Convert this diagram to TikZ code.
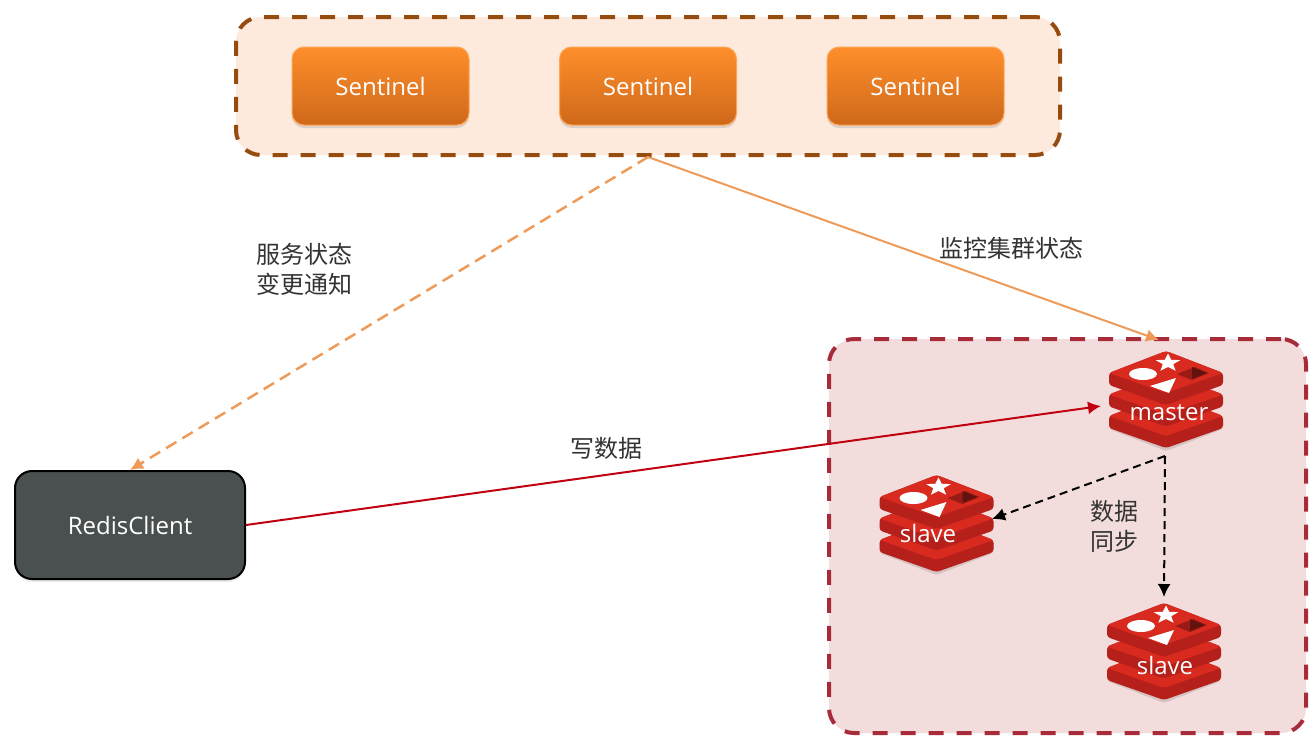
\documentclass[tikz,border=0pt]{standalone}
\usepackage{fontspec}
\setmainfont{Open Sans}
\newfontfamily\cjkfont{Noto Sans CJK SC}
\usetikzlibrary{arrows.meta,shadows}
\definecolor{sentinelline}{HTML}{964B0F}
\definecolor{sentinelback}{HTML}{FDEADD}
\definecolor{sentineltop}{HTML}{FF8F2B}
\definecolor{sentinelbot}{HTML}{CE681A}
\definecolor{redisline}{HTML}{A82B3A}
\definecolor{redisback}{HTML}{F3DDDC}
\definecolor{clientback}{HTML}{4A5050}
\definecolor{notifyline}{HTML}{EE9A58}
\definecolor{writeline}{HTML}{C00010}
\definecolor{logotop}{HTML}{D92A20}
\definecolor{logoside}{HTML}{B5201A}
\tikzset{
  groupbox/.style={line width=4pt,dash pattern=on 15pt off 13pt,rounded corners=25pt},
  sentinelbox/.style={draw=sentineltop!80!white,line width=1pt,rounded corners=12pt,
    top color=sentineltop,bottom color=sentinelbot,
    minimum width=177pt,minimum height=78pt,text=white,font=\fontsize{24}{29}\selectfont,
    drop shadow={shadow xshift=0pt,shadow yshift=-3pt,opacity=.25}},
  clientbox/.style={draw=black,line width=2pt,fill=clientback,rounded corners=17pt,
    minimum width=230pt,minimum height=108pt,text=white,font=\fontsize{24}{29}\selectfont,
    drop shadow={shadow xshift=0pt,shadow yshift=-3pt,opacity=.15}},
  msgtext/.style={text=black!80,font=\fontsize{24}{30}\selectfont\cjkfont,align=center,inner sep=0pt},
  redistext/.style={text=white,font=\fontsize{24}{29}\selectfont,inner sep=0pt},
  redisicon/.pic={
    \fill[black,opacity=.12,rounded corners=3pt] (-57,16) -- (0,38) -- (57,16) -- (57,29) -- (0,51) -- (-57,29) -- cycle;
    \foreach \o in {43,21.5,0} {
      \fill[logoside,rounded corners=3pt] (-57,-27+\o) -- (0,-49+\o) -- (57,-27+\o) -- (57,-15+\o) -- (0,5+\o) -- (-57,-15+\o) -- cycle;
      \fill[logotop,rounded corners=3pt] (-57,-27+\o) -- (0,-49+\o) -- (57,-27+\o) -- (0,-7+\o) -- cycle;
    }
    \fill[white] (-23,-26) ellipse (14pt and 6pt);
    \fill[white] (2,-46.5) -- (5.2,-40.2) -- (14.4,-39.9) -- (7.2,-35.8) -- (9.6,-29.3) -- (2,-33) -- (-5.6,-29.3) -- (-3.2,-35.8) -- (-10.4,-39.9) -- (-1.2,-40.2) -- cycle;
    \fill[white] (-16,-14) -- (10,-22) -- (3,-7) -- cycle;
    \fill[logoside!85!black] (11,-26) -- (29,-33) -- (43,-27) -- (26,-20) -- cycle;
    \fill[logoside!55!black] (26,-33) -- (41,-27) -- (26,-21) -- cycle;
  }
}
\begin{document}
\begin{tikzpicture}[x=1pt,y=-1pt]
  \useasboundingbox (0,0) rectangle (1311,740);

  \node at (648,86) [draw=sentinelline,fill=sentinelback,groupbox,minimum width=824pt,minimum height=138pt] (sentinels) {};
  \node at (1067.5,536) [draw=redisline,fill=redisback,groupbox,minimum width=477pt,minimum height=394pt] (cluster) {};

  \node at (380.5,86) [sentinelbox] (sentinela) {Sentinel};
  \node at (648,86) [sentinelbox] (sentinelb) {Sentinel};
  \node at (915.5,86) [sentinelbox] (sentinelc) {Sentinel};
  \node at (130,525) [clientbox] (client) {RedisClient};

  \pic at (1166,400) {redisicon};
  \pic at (936.5,524) {redisicon};
  \pic at (1164,652) {redisicon};
  \node at (1169,413) [redistext] (master) {master};
  \node at (928,533) [redistext] (slavea) {slave};
  \node at (1165,665) [redistext] (slaveb) {slave};

  \coordinate (masterin) at (1159,340);
  \coordinate (masterwest) at (1101,406);
  \coordinate (masterout) at (1165,456);
  \coordinate (slaveain) at (992,519);
  \coordinate (slavebin) at (1164,597);

  \draw[notifyline,line width=2pt,-{Latex[length=13pt,width=13pt]}] (sentinels.south) -- (masterin);
  \draw[notifyline,line width=2.5pt,dash pattern=on 12pt off 7pt,-{Latex[length=13pt,width=13pt]}] (sentinels.south) -- (client.north);
  \draw[writeline,line width=2pt,-{Latex[length=13pt,width=13pt]}] (client.east) -- (masterwest);
  \draw[black,line width=2pt,dash pattern=on 8pt off 5pt,-{Latex[length=13pt,width=13pt]}] (masterout) -- (slaveain);
  \draw[black,line width=2pt,dash pattern=on 8pt off 5pt,-{Latex[length=13pt,width=13pt]}] (masterout) -- (slavebin);

  \node at (304,269) [msgtext] (notifytext) {服务状态\\变更通知};
  \node at (1011,248) [msgtext] (monitortext) {监控集群状态};
  \node at (606,448) [msgtext] (writetext) {写数据};
  \node at (1114,526) [msgtext] (synctext) {数据\\同步};
\end{tikzpicture}
\end{document}
